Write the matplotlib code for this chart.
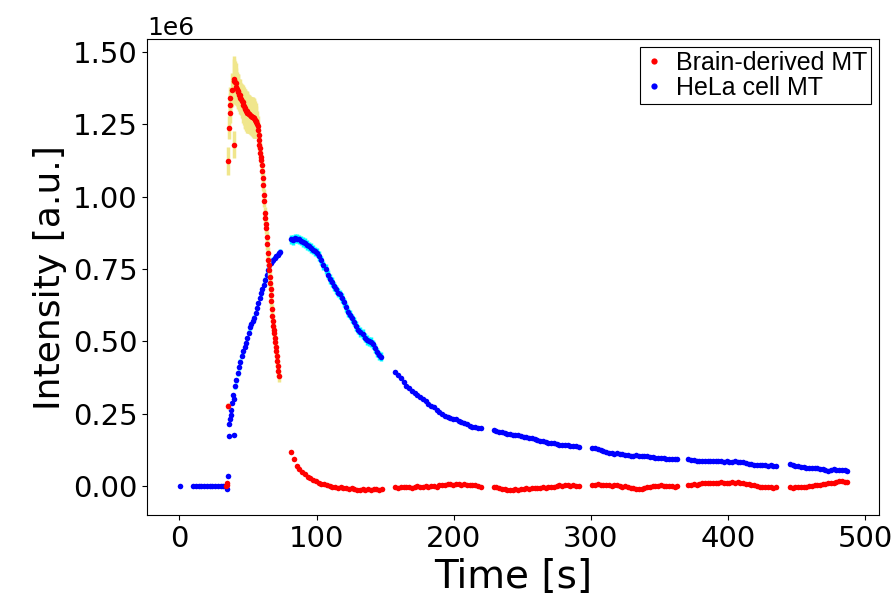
import numpy as np
import matplotlib
matplotlib.use("Agg")
import matplotlib.pyplot as plt

# ---- Brain-derived MT (red) ----
# messy points at the very start of the signal (time, intensity /1e6, error /1e6)
red_start_t = [34.2, 34.6, 34.9, 35.3, 35.2, 36.4, 36.7, 36.9, 37.2, 38.0, 39.6]
red_start_y = [0.000, 0.004, 0.009, 0.276, 1.123, 1.238, 1.290, 1.318, 1.339, 1.368, 1.180]
red_start_e = [0.003, 0.003, 0.003, 0.010, 0.050, 0.040, 0.035, 0.035, 0.040, 0.060, 0.045]

# peak plateau, 0.5 s sampling from 39.5 s
red_peak_y = [1.400, 1.405, 1.395, 1.392, 1.380, 1.372, 1.362, 1.365, 1.352, 1.350,
              1.341, 1.338, 1.330, 1.327, 1.318, 1.312, 1.305, 1.302, 1.296, 1.295,
              1.290, 1.288, 1.285, 1.286, 1.282, 1.280, 1.279, 1.276, 1.275, 1.272,
              1.270, 1.266, 1.262, 1.259, 1.252, 1.244]
red_peak_e = [0.075, 0.080, 0.075, 0.070, 0.065, 0.060, 0.060, 0.058, 0.055, 0.055,
              0.055, 0.055, 0.058, 0.060, 0.062, 0.065, 0.068, 0.070, 0.070, 0.070,
              0.070, 0.068, 0.066, 0.065, 0.064, 0.065, 0.066, 0.068, 0.070, 0.068,
              0.066, 0.064, 0.060, 0.055, 0.045, 0.035]

# fast decay, 0.35 s sampling from 57.3 s
red_fall_y = [1.230, 1.212, 1.195, 1.180, 1.168, 1.150, 1.137, 1.125, 1.110, 1.090,
              1.065, 1.040, 1.005, 0.985, 0.945, 0.925, 0.905, 0.890, 0.860, 0.835,
              0.805, 0.782, 0.765, 0.745, 0.722, 0.700, 0.680, 0.660, 0.638, 0.610,
              0.588, 0.570, 0.552, 0.540, 0.528, 0.512, 0.498, 0.482, 0.465, 0.448,
              0.432, 0.415, 0.398, 0.380]

# tail segments: (start time, step, values)
red_tail = [
    (81.6, 2.0, [0.119]),
    (83.5, 2.0, [0.092, 0.070, 0.058, 0.048, 0.040, 0.032, 0.027, 0.022, 0.016, 0.012,
                 0.008, 0.006, 0.003, 0.000, -0.002, -0.004, -0.006, -0.005, -0.008, -0.007,
                 -0.009, -0.008, -0.010, -0.012, -0.014, -0.011, -0.013, -0.010, -0.012, -0.009,
                 -0.011, -0.013, -0.010]),
    (157.5, 2.0, [-0.004, -0.006, -0.003, -0.005, -0.002, -0.004, -0.006, -0.003, -0.001, -0.004,
                  -0.002, 0.000, -0.003, -0.001, 0.001, -0.002, 0.002, 0.004, 0.003, 0.006,
                  0.007, 0.005, 0.008, 0.006, 0.004, 0.007, 0.005, 0.003, 0.004, 0.002,
                  0.000, -0.002]),
    (229.0, 2.0, [-0.002, -0.005, -0.008, -0.010, -0.011, -0.013, -0.014, -0.012, -0.010, -0.012,
                  -0.009, -0.010, -0.008, -0.010, -0.007, -0.008, -0.006, -0.007, -0.005, -0.006,
                  -0.003, -0.004, -0.002, 0.000, 0.003, 0.001, 0.004, 0.002, 0.000, 0.002,
                  -0.001, 0.000]),
    (301.0, 2.0, [0.005, 0.004, 0.006, 0.003, 0.004, 0.002, 0.003, 0.001, 0.003, 0.002,
                  0.000, -0.002, -0.001, -0.004, -0.006, -0.008, -0.010, -0.011, -0.009, -0.007,
                  -0.005, -0.003, -0.001, 0.001, 0.000, 0.002, 0.000, -0.001, 0.001, 0.000,
                  -0.002, -0.001]),
    (371.0, 2.0, [0.003, 0.004, 0.006, 0.005, 0.008, 0.009, 0.010, 0.011, 0.009, 0.010,
                  0.012, 0.011, 0.013, 0.012, 0.010, 0.011, 0.013, 0.012, 0.014, 0.012,
                  0.010, 0.008, 0.006, 0.003, 0.002, 0.000, -0.002, -0.004, -0.003, -0.005,
                  -0.004, -0.006, -0.005]),
    (445.0, 2.0, [-0.005, -0.006, -0.004, -0.005, -0.003, -0.002, -0.003, 0.000, 0.001, 0.003,
                  0.002, 0.004, 0.006, 0.008, 0.010, 0.009, 0.012, 0.015, 0.017, 0.016,
                  0.014, 0.015]),
]

# ---- HeLa cell MT (blue) ----
blue_start_t = [0.7, 34.8, 35.4, 35.9, 39.6, 36.4, 36.8, 37.3, 37.8, 38.4, 40.1, 38.8]
blue_start_y = [0.000, -0.011, 0.035, 0.173, 0.178, 0.213, 0.230, 0.245, 0.262, 0.286, 0.300, 0.314]

blue_segs = [
    (10.0, 2.0, 0.002, [0.000, 0.001, -0.001, 0.000, 0.001, 0.000, -0.001, 0.000, 0.001, 0.000,
                        -0.001, 0.000, 0.001]),
    (40.5, 1.0, 0.008, [0.345, 0.365, 0.389, 0.410, 0.430, 0.450, 0.465, 0.480, 0.494, 0.512,
                        0.530, 0.548, 0.560, 0.570, 0.582, 0.598, 0.615, 0.632, 0.650, 0.666,
                        0.680, 0.696, 0.713, 0.730, 0.748, 0.762, 0.772, 0.778, 0.782, 0.788,
                        0.794, 0.799, 0.805, 0.810]),
    (81.0, 1.5, 0.016, [0.853, 0.850, 0.856, 0.855, 0.852, 0.848, 0.843, 0.840, 0.833, 0.828,
                        0.822, 0.816, 0.811, 0.806, 0.795, 0.780, 0.762, 0.750, 0.730, 0.715,
                        0.705, 0.690, 0.680, 0.668, 0.662, 0.650, 0.635, 0.618, 0.600, 0.592,
                        0.580, 0.568, 0.553, 0.540, 0.532, 0.525, 0.512, 0.505, 0.500, 0.498,
                        0.490, 0.476, 0.462, 0.452, 0.447]),
    (157.5, 2.0, 0.004, [0.395, 0.385, 0.372, 0.360, 0.347, 0.338, 0.328, 0.320, 0.313, 0.308,
                         0.300, 0.293, 0.285, 0.278, 0.273, 0.264, 0.256, 0.248, 0.242, 0.238,
                         0.234, 0.232, 0.230, 0.226, 0.222, 0.218, 0.213, 0.208, 0.205, 0.203,
                         0.200, 0.199]),
    (229.0, 2.0, 0.003, [0.193, 0.190, 0.188, 0.186, 0.183, 0.181, 0.180, 0.178, 0.176, 0.175,
                         0.173, 0.170, 0.168, 0.166, 0.165, 0.162, 0.160, 0.157, 0.155, 0.152,
                         0.150, 0.148, 0.147, 0.146, 0.143, 0.142, 0.141, 0.142, 0.140, 0.138,
                         0.137, 0.136]),
    (301.0, 2.0, 0.003, [0.132, 0.130, 0.127, 0.124, 0.121, 0.118, 0.115, 0.113, 0.112, 0.113,
                         0.111, 0.110, 0.108, 0.106, 0.104, 0.105, 0.106, 0.104, 0.103, 0.105,
                         0.103, 0.101, 0.100, 0.098, 0.097, 0.098, 0.096, 0.095, 0.094, 0.093,
                         0.092, 0.092]),
    (371.0, 2.0, 0.003, [0.092, 0.091, 0.089, 0.088, 0.088, 0.087, 0.086, 0.087, 0.085, 0.086,
                         0.086, 0.087, 0.085, 0.084, 0.085, 0.083, 0.084, 0.085, 0.084, 0.083,
                         0.082, 0.080, 0.077, 0.075, 0.073, 0.072, 0.073, 0.072, 0.071, 0.070,
                         0.071, 0.070, 0.069]),
    (445.0, 2.0, 0.003, [0.075, 0.072, 0.070, 0.068, 0.066, 0.065, 0.063, 0.064, 0.062, 0.061,
                         0.062, 0.060, 0.058, 0.056, 0.052, 0.057, 0.058, 0.056, 0.055, 0.056,
                         0.054, 0.053]),
]


def seg_x(start, step, vals):
    return start + step * np.arange(len(vals))


# assemble red
red_t = list(red_start_t)
red_y = list(red_start_y)
red_e = list(red_start_e)
red_t += list(seg_x(39.5, 0.5, red_peak_y))
red_y += red_peak_y
red_e += red_peak_e
red_t += list(seg_x(57.3, 0.35, red_fall_y))
red_y += red_fall_y
red_e += [0.02] * len(red_fall_y)
for start, step, vals in red_tail:
    red_t += list(seg_x(start, step, vals))
    red_y += vals
    red_e += [0.004] * len(vals)

# assemble blue
blue_t = list(blue_start_t)
blue_y = list(blue_start_y)
blue_e = [0.004] * len(blue_start_t)
for start, step, err, vals in blue_segs:
    blue_t += list(seg_x(start, step, vals))
    blue_y += vals
    blue_e += [err] * len(vals)

red_t = np.array(red_t)
red_y = np.array(red_y) * 1e6
red_e = np.array(red_e) * 1e6
blue_t = np.array(blue_t)
blue_y = np.array(blue_y) * 1e6
blue_e = np.array(blue_e) * 1e6

fig = plt.figure(figsize=(8.96, 6.07), dpi=100)
ax = fig.add_axes([0.1646, 0.1516, 0.8164, 0.7834])

ax.errorbar(blue_t, blue_y, yerr=blue_e, fmt="none", ecolor="cyan", elinewidth=2.5, zorder=1)
ax.plot(blue_t, blue_y, "o", color="blue", ms=4.0, mew=0, zorder=2)
ax.errorbar(red_t, red_y, yerr=red_e, fmt="none", ecolor="khaki", elinewidth=2.5, zorder=3)
ax.plot(red_t, red_y, "o", color="red", ms=4.0, mew=0, zorder=4)

hr, = ax.plot([], [], "o", color="red", ms=4.5, mew=0, label="Brain-derived MT")
hb, = ax.plot([], [], "o", color="blue", ms=4.5, mew=0, label="HeLa cell MT")

ax.set_xlim(-23.3, 510)
ax.set_ylim(-0.100e6, 1.543e6)
ax.set_yticks([0, 0.25e6, 0.5e6, 0.75e6, 1.0e6, 1.25e6, 1.5e6])
ax.tick_params(labelsize=21)
ax.yaxis.get_offset_text().set_fontsize(18)
ax.set_xlabel("Time [s]", fontsize=28)
ax.set_ylabel("Intensity [a.u.]", fontsize=26)

leg = ax.legend(handles=[hr, hb], loc="upper right", fancybox=False, edgecolor="black",
                framealpha=1, prop={"family": "Liberation Sans", "size": 18},
                handlelength=0.8, handletextpad=0.5, labelspacing=0.05,
                borderpad=0.15, borderaxespad=0.3)
leg.get_frame().set_linewidth(0.8)

fig.savefig("out.png", dpi=100)
